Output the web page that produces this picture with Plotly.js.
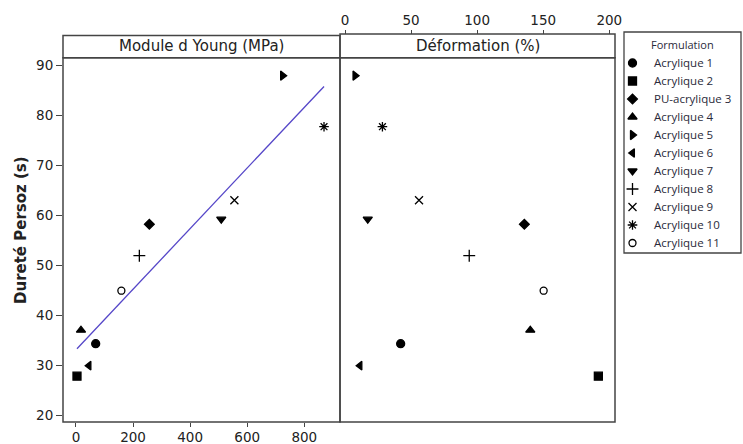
<!DOCTYPE html>
<html>
<head>
<meta charset="utf-8">
<script src="https://cdn.plot.ly/plotly-3.0.1.min.js"></script>
<style>html,body{margin:0;padding:0;background:#fff;}#chart{width:743px;height:444px;}</style>
</head>
<body>
<div id="chart"></div>
<script>
// ---- data ----
var formulations = ['Acrylique 1','Acrylique 2','PU-acrylique 3','Acrylique 4','Acrylique 5','Acrylique 6','Acrylique 7','Acrylique 8','Acrylique 9','Acrylique 10','Acrylique 11'];
var youngModulus = [69, 3.5, 257, 17.5, 724, 45.5, 509, 222, 555, 869, 159];      // MPa
var deformation = [42.1, 191.7, 135.7, 140.2, 7.6, 11.3, 17.2, 94, 56, 28.3, 150.3]; // %
var persoz = [34.4, 27.9, 58.3, 37.1, 88, 30, 59.3, 52, 63.1, 77.8, 45];          // s
var youngTicks = [0, 200, 400, 600, 800];
var deformationTicks = [0, 50, 100, 150, 200];
var persozTicks = [20, 30, 40, 50, 60, 70, 80, 90];
var panelTitles = ['Module d Young (MPa)', 'Déformation (%)'];
var yTitle = 'Dureté Persoz (s)';
var legendTitle = 'Formulation';

// ---- styles ----
var symbols = ['circle','square','diamond','triangle-up','triangle-right','triangle-left','triangle-down','cross-thin-open','x-thin-open','asterisk-open','circle-open'];
var sizes = [8, 8, 7.5, 8, 8, 7.5, 8, 8.5, 8, 8, 7];
var FONT = 'DejaVu Sans, Verdana, sans-serif';
var LEGFONT = 'Open Sans, Noto Sans, sans-serif';
var TXT = '#222';
var LEGTXT = '#2a2a3a';
var LINE = '#444';

var traces = [];
for (var i = 0; i < formulations.length; i++) {
  var mk = {symbol: symbols[i], size: sizes[i], color: '#000', line: {color: '#000', width: 1.3}};
  traces.push({x: [youngModulus[i]], y: [persoz[i]], xaxis: 'x', yaxis: 'y', type: 'scatter', mode: 'markers',
    name: formulations[i], marker: mk, showlegend: false});
  traces.push({x: [deformation[i]], y: [persoz[i]], xaxis: 'x2', yaxis: 'y', type: 'scatter', mode: 'markers',
    name: formulations[i], marker: mk, showlegend: false});
}

// least-squares fit of Persoz vs Young modulus
var n = youngModulus.length, mx = 0, my = 0;
for (var k = 0; k < n; k++) { mx += youngModulus[k]; my += persoz[k]; }
mx /= n; my /= n;
var sxy = 0, sxx = 0;
for (var k = 0; k < n; k++) { sxy += (youngModulus[k]-mx)*(persoz[k]-my); sxx += (youngModulus[k]-mx)*(youngModulus[k]-mx); }
var slope = sxy / sxx, icpt = my - slope*mx;
var xmin = Math.min.apply(null, youngModulus), xmax = Math.max.apply(null, youngModulus);
traces.push({x: [xmin, xmax], y: [icpt + slope*xmin, icpt + slope*xmax], xaxis: 'x', yaxis: 'y',
  type: 'scatter', mode: 'lines', line: {color: 'rgb(85,70,200)', width: 1.3}, showlegend: false, hoverinfo: 'skip'});

// legend key: one row per formulation, on its own small axis (units = px inside the box)
var legendAnn = [];
var ROW0 = 31, ROWH = 18, KEYX = 8.5, TEXTX = 28;
for (var i = 0; i < formulations.length; i++) {
  traces.push({x: [KEYX], y: [ROW0 + ROWH*i], xaxis: 'x3', yaxis: 'y3', type: 'scatter', mode: 'markers',
    marker: {symbol: symbols[i], size: sizes[i], color: '#000', line: {color: '#000', width: 1.3}},
    showlegend: false, hoverinfo: 'skip'});
  legendAnn.push({xref: 'x3', yref: 'y3', x: TEXTX, y: ROW0 + ROWH*i, text: formulations[i], showarrow: false,
    xanchor: 'left', yanchor: 'middle', font: {family: LEGFONT, size: 11.5, color: LEGTXT}});
}
legendAnn.push({xref: 'x3', yref: 'y3', x: 58.5, y: 13, text: legendTitle, showarrow: false,
  xanchor: 'center', yanchor: 'middle', font: {family: LEGFONT, size: 11, color: LEGTXT}});

// geometry (paper fractions)
var W = 678, H = 392;            // paper size with the margins below
var xSplit = 277 / W, xEnd = 552 / W;
var yTop = (422 - 57.7) / H, yStrip = (422 - 34) / H;
var legL = (624 - 63) / W, legR = (741 - 63) / W, legT = (422 - 32) / H, legB = (422 - 253) / H;

var layout = {
  width: 743, height: 444,
  margin: {l: 63, r: 2, t: 30, b: 22},
  paper_bgcolor: '#fff', plot_bgcolor: '#fff',
  font: {family: FONT, color: TXT, size: 13},
  showlegend: false,
  xaxis: {domain: [0, xSplit], range: [-45.5, 925], tickvals: youngTicks, ticks: 'outside', ticklen: 4,
    ticklabelstandoff: -1,
    tickcolor: LINE, showgrid: false, zeroline: false, showline: false, tickfont: {size: 13.5, color: TXT}},
  xaxis2: {domain: [xSplit, xEnd], range: [-3.8, 204.3], tickvals: deformationTicks, ticks: 'outside', ticklen: 4,
    tickcolor: LINE, showgrid: false, zeroline: false, showline: false, side: 'top', anchor: 'free', position: yStrip,
    tickfont: {size: 13.5, color: TXT}},
  yaxis: {domain: [0, yTop], range: [18.74, 91.6], tickvals: persozTicks, ticks: 'outside', ticklen: 6,
    tickcolor: LINE, showgrid: false, zeroline: false, showline: false, tickfont: {size: 13.5, color: TXT}},
  xaxis3: {domain: [legL, legR], range: [0, 117], visible: false, fixedrange: true},
  yaxis3: {domain: [legB, legT], range: [221, 0], visible: false, fixedrange: true, anchor: 'x3'},
  shapes: [
    {type: 'rect', xref: 'paper', yref: 'paper', x0: 0, x1: xSplit, y0: 0, y1: yTop, line: {color: LINE, width: 1.5}},
    {type: 'rect', xref: 'paper', yref: 'paper', x0: xSplit, x1: xEnd, y0: 0, y1: yTop, line: {color: LINE, width: 1.5}},
    {type: 'rect', xref: 'paper', yref: 'paper', x0: 0, x1: xSplit, y0: yTop, y1: yStrip - 0.004, line: {color: LINE, width: 1.5}},
    {type: 'rect', xref: 'paper', yref: 'paper', x0: xSplit, x1: xEnd, y0: yTop, y1: yStrip, line: {color: LINE, width: 1.5}},
    {type: 'rect', xref: 'paper', yref: 'paper', x0: legL, x1: legR, y0: legB, y1: legT, line: {color: LINE, width: 1.3}}
  ],
  annotations: [
    {xref: 'paper', yref: 'paper', x: xSplit/2, y: (yTop+yStrip)/2, text: panelTitles[0], showarrow: false,
      xanchor: 'center', yanchor: 'middle', font: {size: 15, color: TXT}},
    {xref: 'paper', yref: 'paper', x: (xSplit+xEnd)/2, y: (yTop+yStrip)/2, text: panelTitles[1], showarrow: false,
      xanchor: 'center', yanchor: 'middle', font: {size: 15, color: TXT}},
    {xref: 'paper', yref: 'paper', x: (21 - 63) / W, y: (422 - 230) / H, text: '<b>' + yTitle + '</b>', showarrow: false,
      textangle: -90, xanchor: 'center', yanchor: 'middle', font: {size: 15, color: TXT}}
  ].concat(legendAnn)
};

Plotly.newPlot('chart', traces, layout, {displayModeBar: false, staticPlot: true});
</script>
</body>
</html>
